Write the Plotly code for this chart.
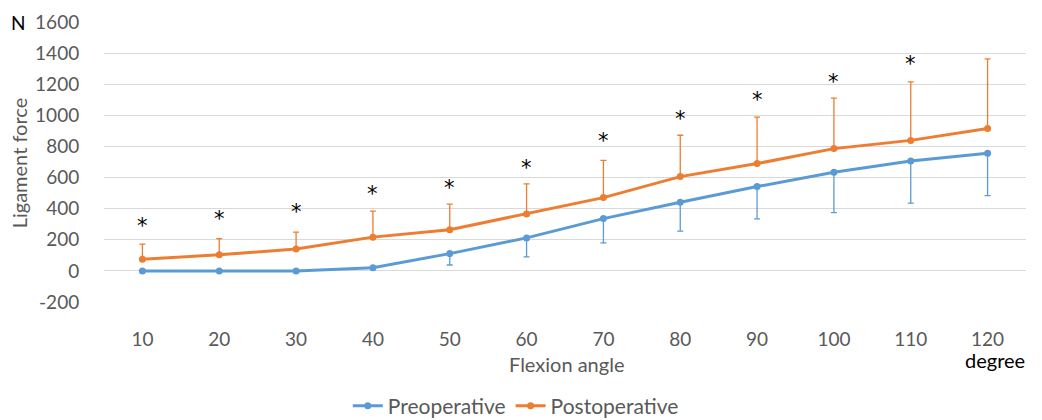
import plotly.graph_objects as go

angles = ["10", "20", "30", "40", "50", "60", "70", "80", "90", "100", "110", "120"]
pre_force = [0, 0, 0, 20, 111, 212, 336, 441, 542, 634, 707, 756]
pre_err = [0, 0, 0, 0, 73, 122, 156, 186, 208, 259, 272, 272]
post_force = [75, 103, 141, 217, 265, 366, 471, 606, 690, 786, 839, 915]
post_err = [97, 105, 108, 167, 164, 193, 240, 266, 298, 324, 376, 448]
star_angles = ["10", "20", "30", "40", "50", "60", "70", "80", "90", "100", "110"]
star_y = [320, 365, 410, 527, 565, 696, 870, 1009, 1131, 1248, 1363]
y_ticks = [-200, 0, 200, 400, 600, 800, 1000, 1200, 1400, 1600]
y_tick_text = ["-200", "0", "200", "400", "600", "800", "1000", "1200", "1400", "1600"]

BLUE = "#5B9BD5"
ORANGE = "#ED7D31"
TXT = "#595959"
FONT = "Lato"

fig = go.Figure()
fig.add_trace(go.Scatter(
    x=angles, y=pre_force, name="Preoperative", mode="lines+markers",
    line=dict(color=BLUE, width=3), marker=dict(size=7, color=BLUE),
    error_y=dict(type="data", symmetric=False, array=[0]*len(pre_err),
                 arrayminus=pre_err, color=BLUE, thickness=1.3, width=3),
))
fig.add_trace(go.Scatter(
    x=angles, y=post_force, name="Postoperative", mode="lines+markers",
    line=dict(color=ORANGE, width=3), marker=dict(size=7, color=ORANGE),
    error_y=dict(type="data", symmetric=False, array=post_err,
                 arrayminus=[0]*len(post_err), color=ORANGE, thickness=1.3, width=3),
))

annotations = [
    dict(text="N", xref="paper", yref="paper", x=-0.093, y=1.0, xanchor="center",
         yanchor="middle", showarrow=False, font=dict(size=19, color="black")),
    dict(text="Ligament force", xref="paper", yref="paper", x=-0.092, y=0.496,
         xanchor="center", yanchor="middle", textangle=-90, showarrow=False,
         font=dict(size=20, color=TXT)),
    dict(text="Flexion angle", xref="paper", yref="paper", x=0.502, y=-0.222,
         xanchor="center", yanchor="middle", showarrow=False,
         font=dict(size=20, color=TXT)),
    dict(text="degree", xref="paper", yref="paper", x=0.966, y=-0.208,
         xanchor="center", yanchor="middle", showarrow=False,
         font=dict(size=20, color="black")),
]
for a, s in zip(star_angles, star_y):
    annotations.append(dict(text="*", x=angles.index(a), y=s, xref="x", yref="y",
                            showarrow=False, xanchor="center", yanchor="middle", yshift=-5,
                            font=dict(size=21, color="black", family="DejaVu Sans")))

fig.update_layout(
    template="none",
    width=1042, height=420,
    margin=dict(l=104, r=16, t=22, b=118, autoexpand=False),
    paper_bgcolor="white", plot_bgcolor="white",
    font=dict(family=FONT, size=19, color=TXT),
    showlegend=True,
    legend=dict(orientation="h", xref="container", yref="container", x=0.495,
                xanchor="center", y=0.082, yanchor="top",
                font=dict(size=21, color=TXT), itemwidth=30, tracegroupgap=0),
    xaxis=dict(type="category", range=[-0.5, 11.5], showgrid=False, zeroline=False,
               showline=False, ticks="outside", ticklen=20, tickcolor="rgba(0,0,0,0)",
               tickfont=dict(size=19, color=TXT), automargin=False),
    yaxis=dict(range=[-200, 1600], tickvals=y_ticks, ticktext=y_tick_text,
               showgrid=True, gridcolor="#D9D9D9",
               gridwidth=1, zeroline=False, showline=False, ticks="outside", ticklen=20,
               tickcolor="rgba(0,0,0,0)", tickfont=dict(size=19, color=TXT), automargin=False),
    annotations=annotations,
)

fig.write_html("out.html")
